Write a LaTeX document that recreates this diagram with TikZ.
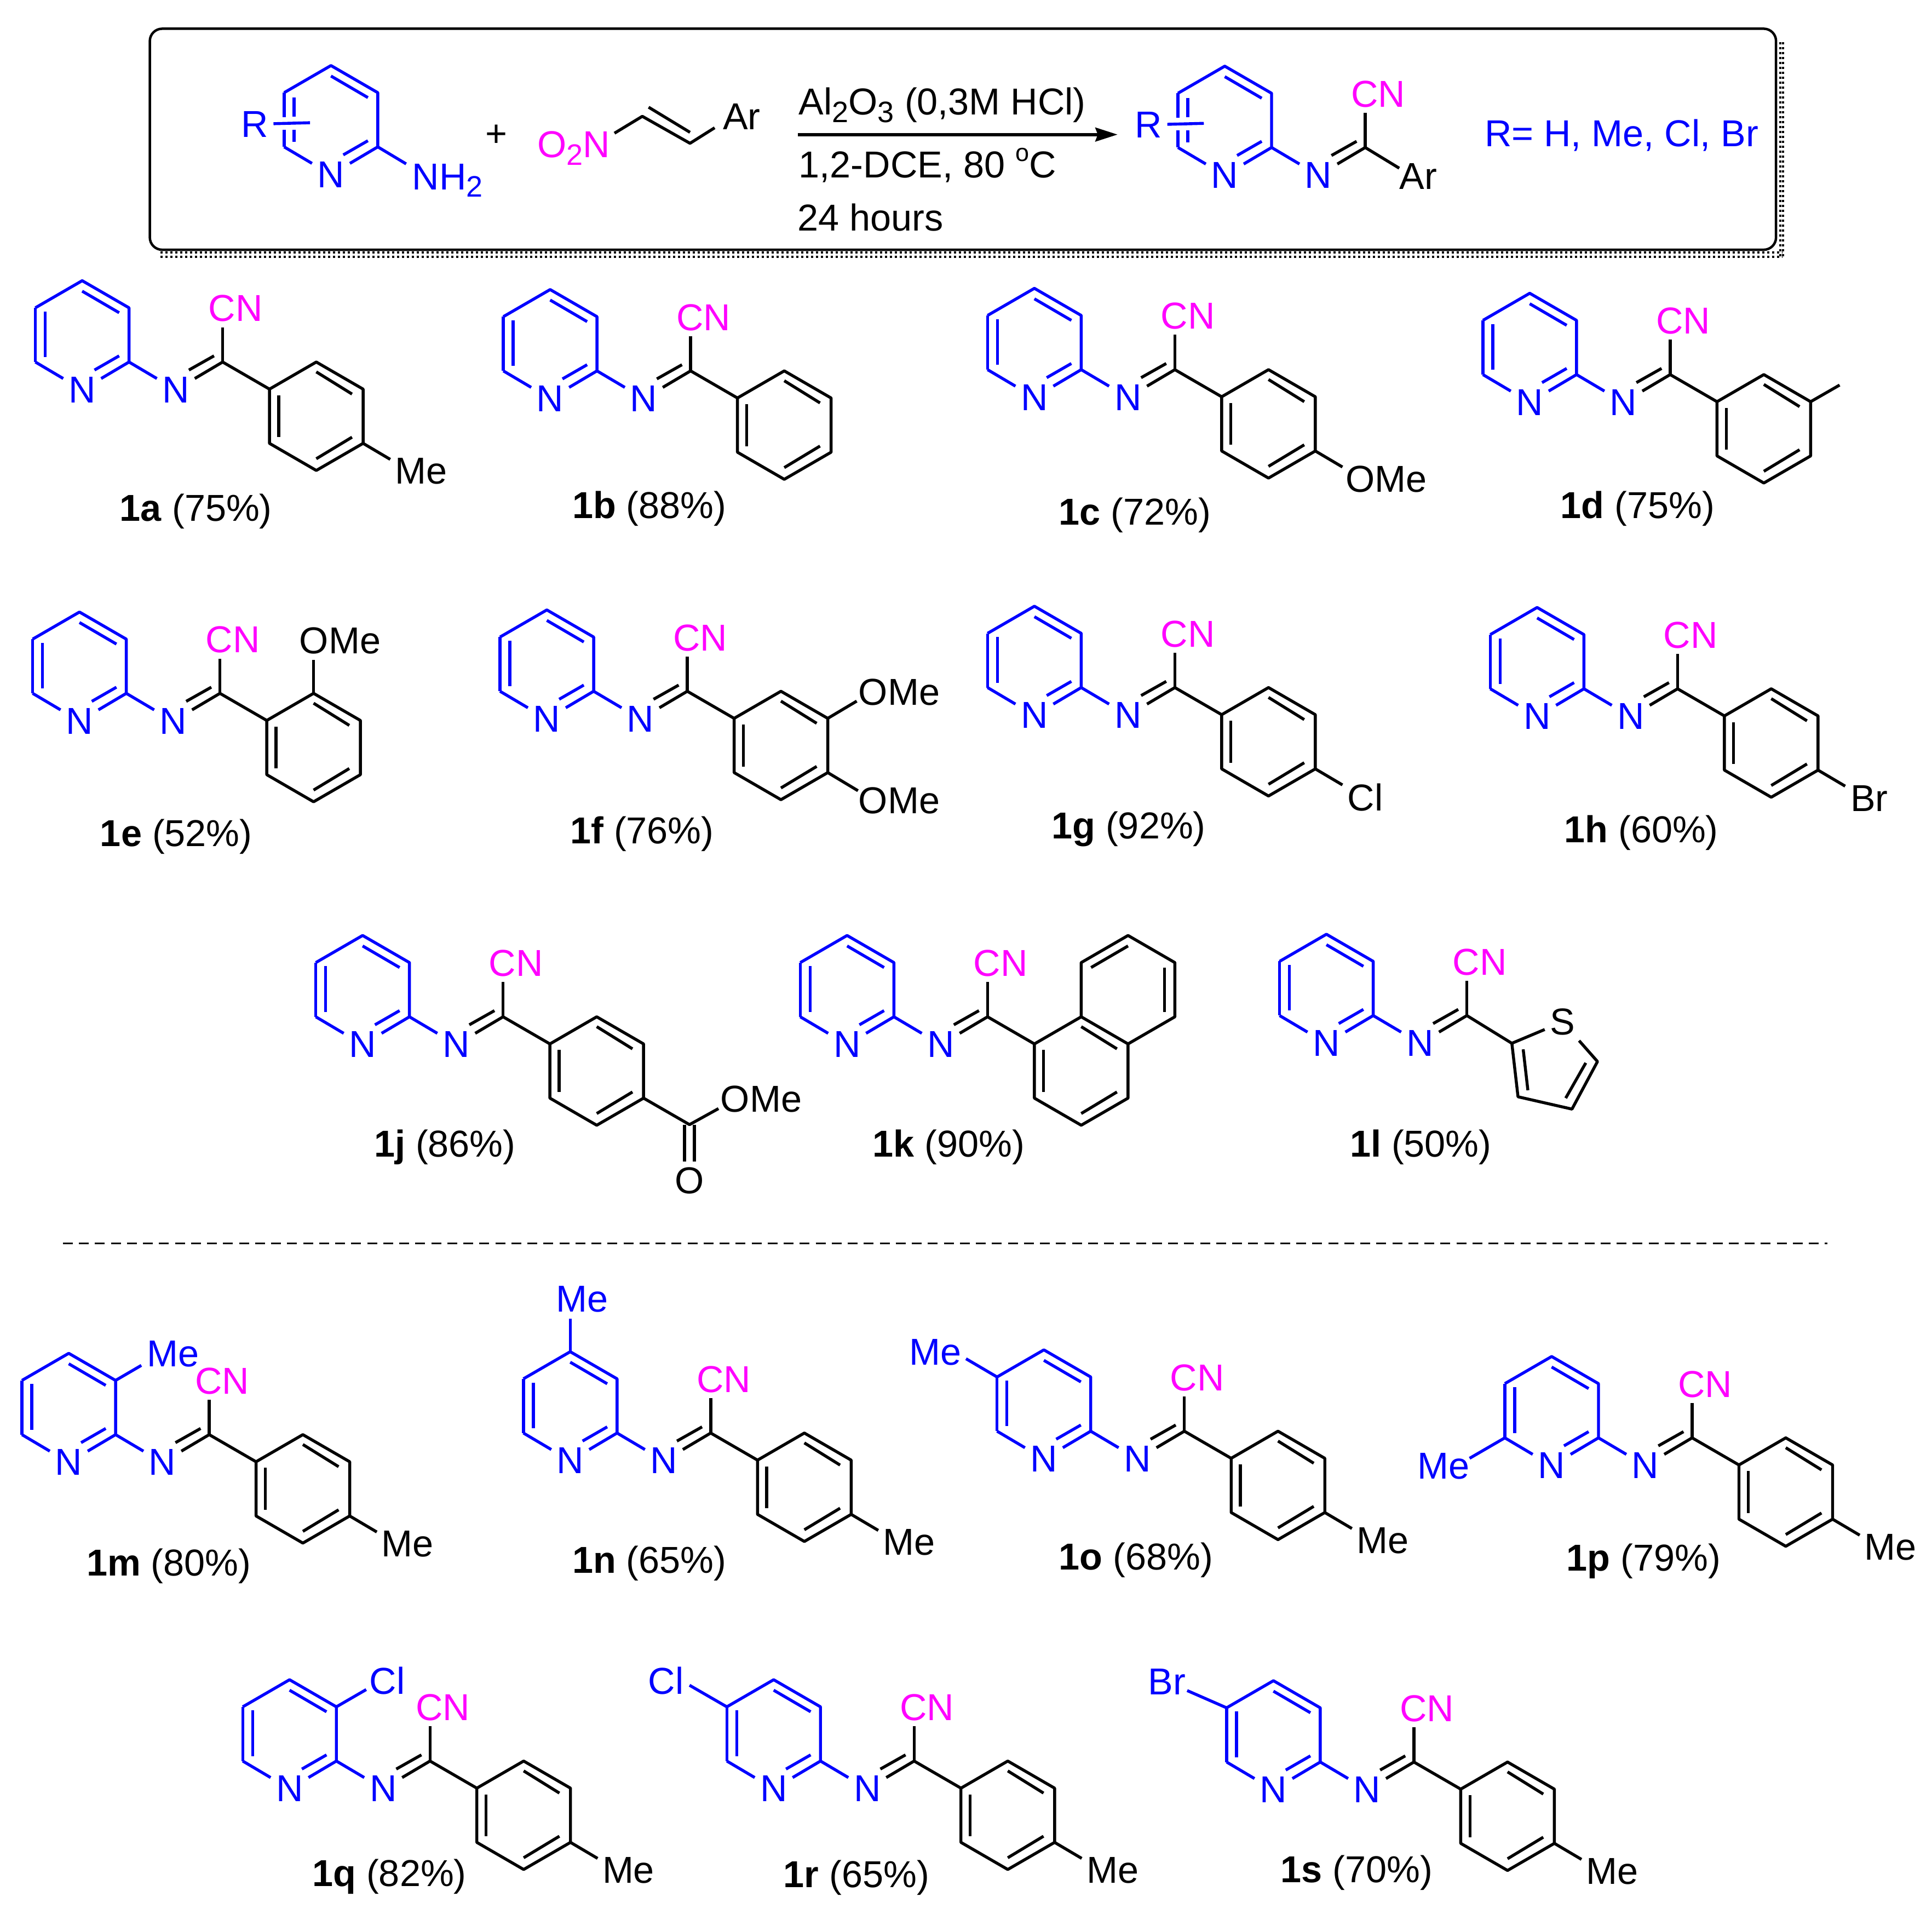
\documentclass[tikz,border=0pt]{standalone}
\usepackage{fontspec}
\setmainfont{Liberation Sans}
\usetikzlibrary{arrows.meta}
\definecolor{cnpink}{RGB}{255,0,255}
\definecolor{pyblue}{RGB}{0,0,255}
\tikzset{
  kbond/.style={black,line width=1.2pt,line join=round},
  bbond/.style={pyblue,line width=1.2pt,line join=round},
  atom/.style={inner sep=2pt},
  bat/.style={atom,pyblue},
  mat/.style={atom,cnpink},
  txt/.style={inner sep=0pt,anchor=base west},
  yield/.style={yshift=-1pt},
  shadow/.style={line width=0.9pt,dash pattern=on 1pt off 1pt}
}
\newcommand{\sbs}[1]{\raisebox{-3pt}{\fontsize{12}{12}\selectfont #1}}
\newcommand{\sps}[1]{\raisebox{6.5pt}{\fontsize{10}{12}\selectfont #1}}
% pyridine without its left side, c2 at the origin
\newcommand{\pyhalf}{%
  \coordinate (c2) at (0,0);
  \coordinate (c3) at (0,-44);
  \coordinate (c4) at (-38,-66);
  \coordinate (c5) at (-76,-44);
  \coordinate (c6) at (-76,0);
  \node[bat] (np) at (-38,22.5) {N};
  \draw[bbond] (c5)--(c4)--(c3)--(c2)--(np);
  \draw[bbond] (c6)--(np);
  \draw[bbond] (-38,-57.5)--(-8,-40);
  \draw[bbond] (-8,-5)--(-28,6.5);
}
\newcommand{\pyleft}{%
  \draw[bbond] (c5)--(c6);
  \draw[bbond] (-68,-41)--(-68,-4);
}
% left side cut by the R bond
\newcommand{\pyrest}{%
  \draw[bbond] (c5)--(-76,-24);
  \draw[bbond] (-76,-14)--(c6);
  \draw[bbond] (-68,-40)--(-68,-24.5);
  \draw[bbond] (-68,-14)--(-68,-4);
  \coordinate (ra) at (-55,-19.6);
  \node[bat] (rr) at (-100,-18.4) {R};
  \draw[bbond] (ra)--(rr);
}
\newcommand{\imine}{%
  \coordinate (ci) at (76,0);
  \node[bat] (ni) at (38,22.5) {N};
  \node[mat] (cn) at (86.5,-43.4) {CN};
  \draw[bbond] (c2)--(ni);
  \draw[kbond] (ci)--(ni);
  \draw[kbond] (69,-5)--(48.6,6.5);
  \draw[kbond] (ci)--(ci|-cn.south);
}
\newcommand{\core}{\pyhalf\pyleft\imine}
\newcommand{\arring}{%
  \coordinate (a1) at (114,22);
  \coordinate (a2) at (152,0);
  \coordinate (a3) at (190,22);
  \coordinate (a4) at (190,66);
  \coordinate (a5) at (152,88);
  \coordinate (a6) at (114,66);
  \draw[kbond] (ci)--(a1);
  \draw[kbond] (a1)--(a2)--(a3)--(a4)--(a5)--(a6)--cycle;
  \draw[kbond] (152,8)--(181,26);
  \draw[kbond] (121.5,27)--(121.5,61);
  \draw[kbond] (181,61)--(152,78.5);
}
% bond from a ring atom to a free end, and the label beside it
\newcommand{\subst}[5][]{%
  \coordinate (e) at (#3);
  \node[atom,#1] (sb) at (#4) {#5};
  \draw[kbond,#1] (#2)--(e);
}
\begin{document}
\begin{tikzpicture}[x=0.5pt,y=-0.5pt,every node/.style={font=\fontsize{15.2}{18}\selectfont}]
\useasboundingbox (0,0) rectangle (1568,1558.2);

% scheme box
\draw [shadow] (130,204.8)--(1446.5,204.8);
\draw [shadow] (130,208.3)--(1446.5,208.3);
\draw [shadow] (1444.8,34)--(1444.8,208);
\draw [shadow] (1447,34)--(1447,208);
\node [draw,line width=1pt,rounded corners=5pt,minimum width=659.9pt,minimum height=89.7pt,inner sep=0pt,fill=white] (box) at (781.5,113) {};

\begin{scope}[shift={(306.6,119.2)}]
\pyhalf \pyrest
\coordinate (e) at (23,13.8);
\node[txt,pyblue] (nh) at (27.5,34.6) {NH\sbs{2}};
\draw[bbond] (c2)--(e);
\end{scope}
\node (plus) at (403,110) {+};
\node[txt,cnpink] (nitro) at (435.7,127.9) {O\sbs{2}N};
\coordinate (v1) at (498.7,108.1);
\coordinate (v2) at (521.3,94.4);
\coordinate (v3) at (560,116.3);
\coordinate (v4) at (580,103.7);
\draw[kbond] (v1)--(v2)--(v3)--(v4);
\draw[kbond] (526.4,87)--(560,107.4);
\node[atom] (ar) at (602,94.8) {Ar};

\coordinate (ar0) at (647.7,109.2);
\coordinate (ar9) at (907,109.2);
\draw[line width=1.3pt,-{Stealth[length=9pt,width=5.6pt,inset=1pt]}] (ar0)--(ar9);
\node[txt] (cond1) at (648,93.3) {Al\sbs{2}O\sbs{3} (0,3M HCl)};
\node[txt] (cond2) at (648,144) {1,2-DCE, 80 \sps{o}C};
\node[txt] (cond3) at (647,187.4) {24 hours};

\begin{scope}[shift={(1032,119.7)}]
\pyhalf \pyrest \imine
\coordinate (e) at (103.6,16.8);
\node[atom] (ar2) at (119,23.3) {Ar};
\draw[kbond] (ci)--(e);
\end{scope}
\node[txt,pyblue] (rlist) at (1204.5,119) {R= H, Me, Cl, Br};

% first row
\begin{scope}[shift={(104.7,293.8)}]
\core \arring \subst{a4}{212,79}{237,88.7}{Me}
\end{scope}
\node[yield] (l1a) at (159,413) {\textbf{1a} (75\%)};
\begin{scope}[shift={(484.5,301)}]
\core \arring
\end{scope}
\node[yield] (l1b) at (527,411) {\textbf{1b} (88\%)};
\begin{scope}[shift={(877.5,300)}]
\core \arring \subst{a4}{212,79}{247.5,89}{OMe}
\end{scope}
\node[yield] (l1c) at (921,416) {\textbf{1c} (72\%)};
\begin{scope}[shift={(1279.5,304)}]
\core \arring
\coordinate (m1) at (213.5,8.5);
\draw[kbond] (a3)--(m1);
\end{scope}
\node[yield] (l1d) at (1329,411) {\textbf{1d} (75\%)};

% second row
\begin{scope}[shift={(102.5,562.7)}]
\core \arring \subst{a2}{152,-27}{173.5,-42.7}{OMe}
\end{scope}
\node[yield] (l1e) at (143,677) {\textbf{1e} (52\%)};
\begin{scope}[shift={(481.8,561)}]
\core \arring
\subst{a3}{213.5,8}{248,0.7}{OMe}
\subst{a4}{214.5,80.7}{248,88.6}{OMe}
\end{scope}
\node[yield] (l1f) at (521,675) {\textbf{1f} (76\%)};
\begin{scope}[shift={(877.5,558)}]
\core \arring \subst{a4}{212,79}{230.5,89}{Cl}
\end{scope}
\node[yield] (l1g) at (916,671) {\textbf{1g} (92\%)};
\begin{scope}[shift={(1285.5,559)}]
\core \arring \subst{a4}{212,79}{231.5,89}{Br}
\end{scope}
\node[yield] (l1h) at (1332,674) {\textbf{1h} (60\%)};

% third row
\begin{scope}[shift={(332.3,825.2)}]
\core \arring
\coordinate (est) at (227.3,87.5);
\coordinate (o1) at (250.8,74.5);
\node[atom] (ome) at (285.5,66.9) {OMe};
\node[atom] (oo) at (227.3,133) {O};
\draw[kbond] (a4)--(est)--(o1);
\draw[kbond] (223.3,87.5)--(223.3,117.4);
\draw[kbond] (231.3,87.5)--(231.3,117.4);
\end{scope}
\node[yield] (l1j) at (361,929) {\textbf{1j} (86\%)};
\begin{scope}[shift={(725.5,825.2)}]
\core \arring
\coordinate (n1) at (152,-44);
\coordinate (n2) at (190,-66);
\coordinate (n3) at (228,-44);
\coordinate (n4) at (228,0);
\draw[kbond] (a2)--(n1)--(n2)--(n3)--(n4)--(a3);
\draw[kbond] (160,-40)--(190,-57.5);
\draw[kbond] (219.5,-40)--(219.5,-4);
\end{scope}
\node[yield] (l1k) at (770,929) {\textbf{1k} (90\%)};
\begin{scope}[shift={(1114.5,824.2)}]
\core
\coordinate (t1) at (112.5,22.5);
\coordinate (t3) at (182,37.3);
\coordinate (t4) at (161.3,75.9);
\coordinate (t5) at (117.5,65.9);
\node[atom] (ss) at (153.7,5.2) {S};
\draw[kbond] (ci)--(t1)--(ss);
\draw[kbond] (ss)--(t3)--(t4)--(t5)--(t1);
\draw[kbond] (121.7,27.4)--(125.5,60.6);
\draw[kbond] (172.5,38.4)--(156.2,67);
\end{scope}
\node[yield] (l1l) at (1153,929) {\textbf{1l} (50\%)};

\coordinate (d1) at (51,1009);
\coordinate (d2) at (1483,1009);
\draw [line width=0.6pt,dash pattern=on 4pt off 2.5pt] (d1)--(d2);

% fourth row
\begin{scope}[shift={(93.8,1164.3)}]
\core \arring \subst{a4}{212,79}{237,88.7}{Me}
\subst[pyblue]{c3}{20.9,-56.2}{46.5,-65.3}{Me}
\end{scope}
\node[yield] (l1m) at (137,1269) {\textbf{1m} (80\%)};
\begin{scope}[shift={(500.8,1163)}]
\core \arring \subst{a4}{212,79}{237,88.7}{Me}
\subst[pyblue]{c4}{-38,-92.6}{-28.5,-108.6}{Me}
\end{scope}
\node[yield] (l1n) at (527,1267) {\textbf{1n} (65\%)};
\begin{scope}[shift={(885.2,1161.5)}]
\core \arring \subst{a4}{212,79}{237,88.7}{Me}
\subst[pyblue]{c5}{-101.2,-58.8}{-125.9,-64}{Me}
\end{scope}
\node[yield] (l1o) at (922,1264) {\textbf{1o} (68\%)};
\begin{scope}[shift={(1297.3,1166.9)}]
\core \arring \subst{a4}{212,79}{237,88.7}{Me}
\subst[pyblue]{c6}{-104.6,16.6}{-125.6,22.8}{Me}
\end{scope}
\node[yield] (l1p) at (1334,1265) {\textbf{1p} (79\%)};

% fifth row
\begin{scope}[shift={(273,1429.2)}]
\core \arring \subst{a4}{212,79}{237,88.7}{Me}
\subst[pyblue]{c3}{24.2,-58}{41.3,-65.2}{Cl}
\end{scope}
\node[yield] (l1q) at (316,1521) {\textbf{1q} (82\%)};
\begin{scope}[shift={(665.9,1429.2)}]
\core \arring \subst{a4}{212,79}{237,88.7}{Me}
\subst[pyblue]{c5}{-106.3,-61.5}{-125.5,-65.2}{Cl}
\end{scope}
\node[yield] (l1r) at (695,1522) {\textbf{1r} (65\%)};
\begin{scope}[shift={(1071.5,1430)}]
\core \arring \subst{a4}{212,79}{237,88.7}{Me}
\subst[pyblue]{c5}{-108,-58}{-124.5,-65}{Br}
\end{scope}
\node[yield] (l1s) at (1101,1518) {\textbf{1s} (70\%)};

\end{tikzpicture}
\end{document}
